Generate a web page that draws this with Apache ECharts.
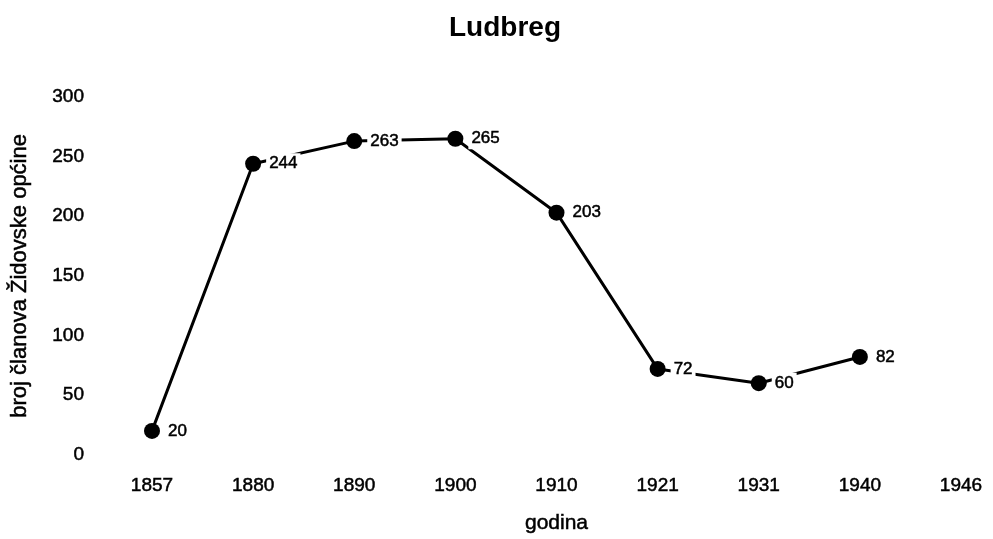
<!DOCTYPE html>
<html>
<head>
<meta charset="utf-8">
<script src="https://cdn.jsdelivr.net/npm/echarts@6/dist/echarts.min.js"></script>
<style>html,body{margin:0;padding:0;background:#fff}#c{width:993px;height:539px}</style>
</head>
<body>
<div id="c"></div>
<script>
const categories = ['1857','1880','1890','1900','1910','1921','1931','1940','1946'];
const members = [20, 244, 263, 265, 203, 72, 60, 82, null];
const yTicks = [0, 50, 100, 150, 200, 250, 300];

const chart = echarts.init(document.getElementById('c'));
const font = 'Liberation Sans, Arial, Helvetica, sans-serif';
const heavy = {textBorderColor: '#000', textBorderWidth: 0.5};
chart.setOption({
  animation: false,
  backgroundColor: '#fff',
  title: {
    text: 'Ludbreg', left: 500, top: 9, textAlign: 'center',
    textStyle: {fontFamily: font, fontSize: 28, fontWeight: 'bold', color: '#000'}
  },
  grid: {left: 152, right: 32, top: 97, bottom: 84},
  xAxis: {
    type: 'category', data: categories, boundaryGap: false,
    name: 'godina', nameLocation: 'middle', nameGap: 58,
    nameTextStyle: Object.assign({fontFamily: font, fontSize: 21, color: '#000'}, heavy),
    axisLine: {show: false}, axisTick: {show: false},
    axisLabel: Object.assign({fontFamily: font, fontSize: 19, color: '#000', margin: 22}, heavy),
    splitLine: {show: false}
  },
  yAxis: {
    type: 'value', min: yTicks[0], max: yTicks[yTicks.length-1], interval: 50,
    name: 'broj članova Židovske općine', nameLocation: 'middle', nameGap: 121,
    nameTextStyle: Object.assign({fontFamily: font, fontSize: 22, color: '#000'}, heavy),
    axisLine: {show: false}, axisTick: {show: false},
    axisLabel: Object.assign({fontFamily: font, fontSize: 19, color: '#000', margin: 68}, heavy),
    splitLine: {show: false}
  },
  series: [{
    type: 'line', data: members, connectNulls: false,
    symbol: 'circle', symbolSize: 16,
    lineStyle: {color: '#000', width: 3},
    itemStyle: {color: '#000'},
    label: Object.assign({
      show: true, position: 'right', distance: 5,
      fontFamily: font, fontSize: 17, color: '#000',
      backgroundColor: '#fff', padding: [2, 3]
    }, heavy)
  }]
});
</script>
</body>
</html>
